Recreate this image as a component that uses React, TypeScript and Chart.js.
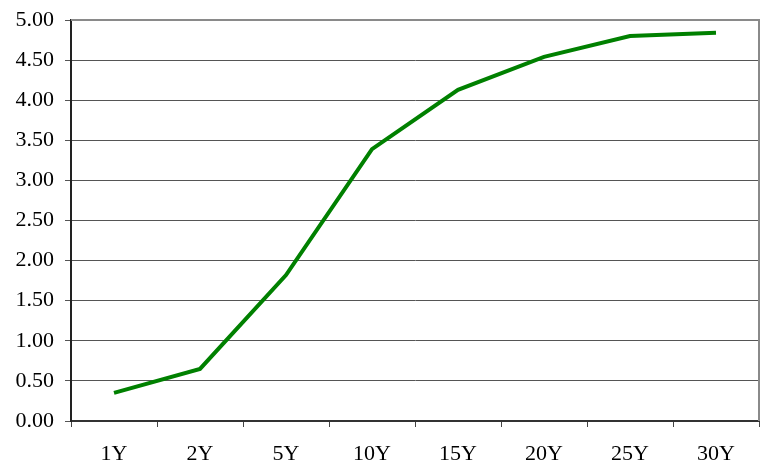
import React, { useEffect, useRef } from "react";
import { Chart, registerables } from "chart.js";

Chart.register(...registerables);

const categories = ["1Y", "2Y", "5Y", "10Y", "15Y", "20Y", "25Y", "30Y"];
const yields = [0.35, 0.65, 1.82, 3.39, 4.13, 4.54, 4.8, 4.84];
const yTicks = { min: 0, max: 5, step: 0.5 };

const borderPlugin = {
  id: "areaBorder",
  afterDraw(chart: any) {
    const { ctx, chartArea } = chart;
    ctx.save();
    ctx.strokeStyle = "#8a8a8a";
    ctx.lineWidth = 2;
    ctx.beginPath();
    ctx.moveTo(chartArea.left, chartArea.top);
    ctx.lineTo(chartArea.right, chartArea.top);
    ctx.lineTo(chartArea.right, chartArea.bottom);
    ctx.stroke();
    ctx.restore();
  },
};

export default function App() {
  const ref = useRef<HTMLCanvasElement | null>(null);
  useEffect(() => {
    if (!ref.current) return;
    const font = { family: "'Liberation Serif', 'Times New Roman', serif", size: 22 };
    const chart = new Chart(ref.current, {
      type: "line",
      data: {
        labels: categories,
        datasets: [
          {
            data: yields,
            borderColor: "#008000",
            borderWidth: 4,
            pointRadius: 0,
            tension: 0,
            fill: false,
          },
        ],
      },
      options: {
        animation: false,
        responsive: true,
        maintainAspectRatio: false,
        layout: { padding: { left: 0, right: 3, top: 20, bottom: 0 } },
        plugins: { legend: { display: false }, tooltip: { enabled: false } },
        scales: {
          x: {
            offset: true,
            grid: {
              offset: true,
              drawOnChartArea: false,
              drawTicks: true,
              tickLength: 6,
              color: "#444",
              lineWidth: 1,
            },
            border: { display: true, color: "#333", width: 2 },
            ticks: { color: "#000", font, padding: 14, maxRotation: 0 },
            afterFit(scale: any) {
              scale.height = 40;
              scale.paddingLeft = 0;
              scale.paddingRight = 0;
            },
          },
          y: {
            min: yTicks.min,
            max: yTicks.max,
            grid: { color: "#555", lineWidth: 1, tickLength: 6 },
            border: { display: true, color: "#222", width: 2 },
            ticks: {
              stepSize: yTicks.step,
              color: "#000",
              font,
              padding: 11,
              callback: (v: any) => Number(v).toFixed(2),
            },
            afterFit(scale: any) {
              scale.width = 71;
              scale.paddingTop = 0;
              scale.paddingBottom = 0;
            },
          },
        },
      },
      plugins: [borderPlugin],
    });
    return () => chart.destroy();
  }, []);
  return (
    <div style={{ position: "absolute", left: 0, top: 0, width: 762, height: 461, background: "#fff" }}>
      <canvas ref={ref} />
    </div>
  );
}
